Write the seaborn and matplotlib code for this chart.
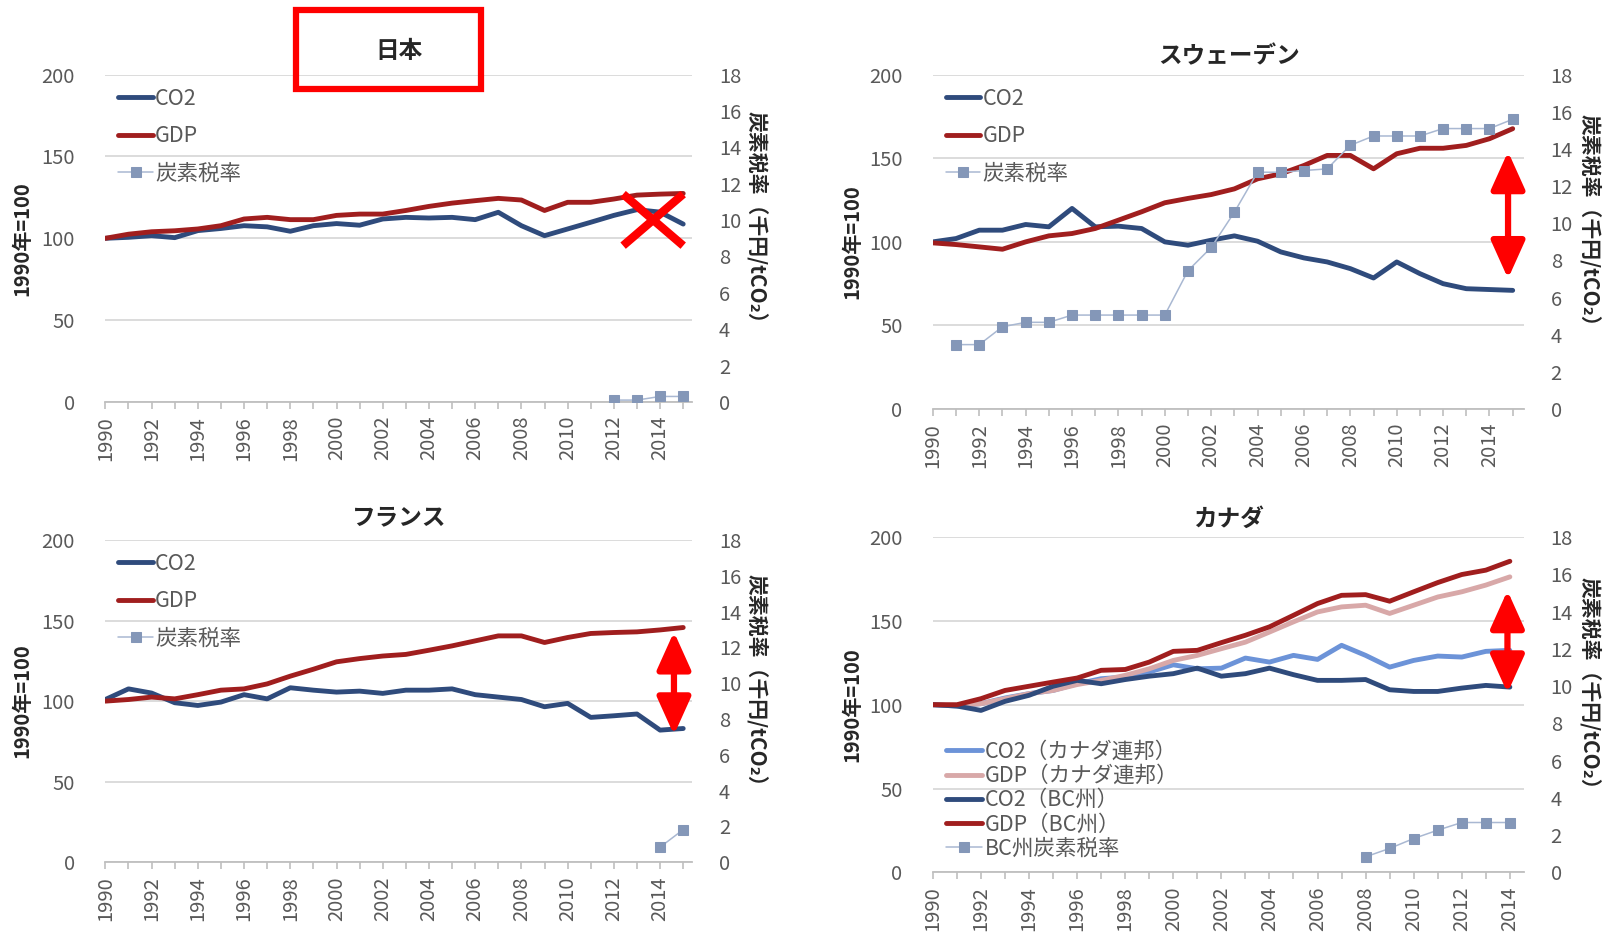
import seaborn as sns
from matplotlib import pyplot as plt
from matplotlib.patches import FancyArrowPatch, Rectangle

# Years on the category axes
years = list(range(1990, 2016))
years_ca = list(range(1990, 2015))

# 日本 (1990=100, tax in 千円/tCO2)
jp_co2 = [100, 100.6, 101.6, 100.4, 104.7, 106, 107.7, 107, 104.3, 107.7, 109, 108,
          111.8, 112.8, 112.4, 112.8, 111.4, 115.9, 107.7, 101.6, 105.7, 109.8, 114,
          117.5, 116, 108.7]
jp_gdp = [100, 102.5, 104, 104.6, 105.7, 107.7, 111.8, 112.8, 111.4, 111.4, 114, 114.8,
          114.8, 117, 119.5, 121.5, 123, 124.4, 123.4, 117, 122, 122, 124, 126.4,
          127, 127.4]
jp_tax_years = [2012, 2013, 2014, 2015]
jp_tax = [0.1, 0.1, 0.3, 0.3]

# スウェーデン
se_co2 = [100, 102, 107, 107, 110.4, 109, 120, 109, 109.4, 108, 100, 98, 101, 103.6,
          100.4, 94, 90.4, 88, 84, 78.4, 88, 81, 75, 72, 71.5, 71]
se_gdp = [99.4, 98.4, 97, 95.6, 100, 103.6, 105, 108, 113, 118, 123.4, 126, 128.3,
          131.7, 137.7, 140.7, 145.7, 151.7, 151.7, 143.7, 152.7, 156, 156, 157.7,
          161.7, 167.7]
se_tax_years = list(range(1991, 2016))
se_tax = [3.47, 3.47, 4.43, 4.67, 4.67, 5.06, 5.06, 5.06, 5.06, 5.06, 7.45, 8.7, 10.6,
          12.75, 12.75, 12.84, 12.93, 14.2, 14.7, 14.7, 14.7, 15.1, 15.1, 15.1, 15.6]

# フランス
fr_co2 = [101, 107.6, 105, 99, 97.3, 99.4, 104, 101.4, 108.3, 106.8, 105.6, 106.2,
          104.8, 106.8, 106.8, 107.6, 104, 102.5, 101, 96.5, 98.6, 89.9, 90.9, 92,
          82, 83]
fr_gdp = [100, 101, 102.5, 101.4, 104, 106.8, 107.6, 110.7, 115.5, 119.8, 124.4, 126.4,
          128, 129, 131.6, 134.3, 137.4, 140.5, 140.5, 136.4, 139.5, 142, 142.6, 143,
          144.2, 145.7]
fr_tax_years = [2014, 2015]
fr_tax = [0.84, 1.82]

# カナダ
ca_co2_fed = [100, 99.2, 100.6, 104, 106.6, 108.5, 112.5, 115.5, 116.5, 119.5, 123.8,
              121.4, 121.8, 127.8, 125.4, 129.4, 127, 135.4, 129.4, 122.4, 126.4, 129,
              128.4, 131.8, 132.4]
ca_gdp_fed = [100, 99.6, 100.6, 103.6, 106.6, 108.5, 112, 114.5, 117.5, 121.4, 126.4,
              129.4, 133.4, 137.3, 143.3, 149.4, 155.3, 158.3, 159.3, 154.4, 159.3,
              164.2, 167.3, 171.3, 176.2]
ca_co2_bc = [100, 99.2, 96.6, 102, 105.6, 111, 114.5, 112.5, 115, 117, 118.5, 121.8,
             117, 118.5, 121.8, 117.9, 114.5, 114.5, 115, 108.9, 107.9, 107.9, 109.9,
             111.5, 110.5]
ca_gdp_bc = [100, 100, 103.6, 108.5, 111, 113.5, 115.9, 120.5, 121, 125.4, 131.8, 132.4,
             137, 141.4, 146.4, 153.3, 160.3, 165.2, 165.6, 161.7, 167.3, 172.8, 177.6,
             180.2, 185.5]
ca_tax_years = list(range(2008, 2015))
ca_tax = [0.84, 1.29, 1.82, 2.27, 2.68, 2.68, 2.68]

NAVY = "#2F4B7C"
RED = "#A01E1E"
LIGHT_BLUE = "#6C93D8"
PINK = "#D8A8A8"
TAX = "#8497B8"
TAX_LINE = "#A9B8D2"
GREY = "#595959"

sns.set_theme(style="white")
plt.rcParams["font.family"] = ["Noto Sans CJK JP", "DejaVu Sans"]

fig = plt.figure(figsize=(16.04, 9.43), dpi=100)


def make_panel(rect, title, xyears, xmax, title_pad=8):
    ax = fig.add_axes(rect)
    ax2 = ax.twinx()
    ax.set_xlim(1990, xmax)
    ax.set_ylim(0, 200)
    ax2.set_ylim(0, 18)
    ax.set_yticks(range(0, 201, 50))
    ax2.set_yticks(range(0, 19, 2))
    ax.set_xticks(xyears)
    ax.set_xticklabels([str(y) if y % 2 == 0 else "" for y in xyears])
    ax.grid(axis="y", color="#D9D9D9", lw=1.3)
    ax.set_axisbelow(True)
    for s in ["left", "right", "top"]:
        ax.spines[s].set_visible(False)
    for s in ax2.spines.values():
        s.set_visible(False)
    ax.spines["bottom"].set_color("#BFBFBF")
    ax.spines["bottom"].set_linewidth(1.3)
    ax.tick_params(axis="x", bottom=True, length=5, width=1.2, color="#BFBFBF",
                   labelrotation=90, labelsize=14.5, labelcolor=GREY, pad=5)
    ax.tick_params(axis="y", left=False, labelsize=14.5, labelcolor=GREY, pad=16)
    ax2.tick_params(axis="y", right=False, labelsize=14.5, labelcolor=GREY, pad=13)
    ax.set_title(title, fontsize=17, fontweight="bold", pad=title_pad)
    return ax, ax2


def finish_panel(ax, ax2, legend_kw, ylabel_x=-0.125):
    ax.set_xlabel("")
    ax.set_ylabel("1990年=100", fontsize=14.5, fontweight="bold", color="#262626")
    ax.yaxis.set_label_coords(ylabel_x, 0.5)
    ax2.set_ylabel("炭素税率（千円/tCO₂）", rotation=-90, va="center",
                   fontsize=15, fontweight="bold", color="#262626")
    ax2.yaxis.set_label_coords(1.11, 0.55)
    for a in (ax, ax2):
        if a.get_legend() is not None:
            a.get_legend().remove()
    handles = ax.get_lines() + ax2.get_lines()
    handles = [h for h in handles if not h.get_label().startswith("_")]
    leg = ax2.legend(handles, [h.get_label() for h in handles], frameon=False,
                     handletextpad=0.1, borderaxespad=0.2, prop={"size": 15.5},
                     **legend_kw)
    for t in leg.get_texts():
        t.set_color(GREY)


def two_lines(ax, x, co2, gdp):
    sns.lineplot(x=x, y=co2, ax=ax, color=NAVY, linewidth=3.5, label="CO2")
    sns.lineplot(x=x, y=gdp, ax=ax, color=RED, linewidth=3.5, label="GDP")


def tax_line(ax2, x, y, label):
    sns.lineplot(x=x, y=y, ax=ax2, color=TAX_LINE, linewidth=1.1, marker="s",
                 markersize=7.5, markerfacecolor=TAX, markeredgecolor=TAX, label=label)


def red_arrow(ax, x, y0, y1):
    ax.add_patch(FancyArrowPatch((x, y0), (x, y1),
                                 arrowstyle="<|-|>,head_length=1.0,head_width=0.45",
                                 mutation_scale=23, color="red", lw=4.5,
                                 clip_on=False, zorder=10, shrinkA=0, shrinkB=0))


top_kw = dict(loc="upper left", bbox_to_anchor=(0.0, 1.0), handlelength=1.6,
              labelspacing=0.72)

# 日本
ax, ax2 = make_panel([0.0657, 0.5738, 0.366, 0.347], "日本", years, 2015.4, 12)
two_lines(ax, years, jp_co2, jp_gdp)
tax_line(ax2, jp_tax_years, jp_tax, "炭素税率")
finish_panel(ax, ax2, top_kw)
ax.plot([2012.4, 2015.0], [127, 95.5], color="red", lw=6, solid_capstyle="butt",
        zorder=10)
ax.plot([2012.4, 2015.0], [95.5, 127], color="red", lw=6, solid_capstyle="butt",
        zorder=10)
fig.add_artist(Rectangle((0.1843, 0.9056), 0.1154, 0.0836, transform=fig.transFigure,
                         fill=False, edgecolor="red", lw=4.5))

# スウェーデン
ax, ax2 = make_panel([0.5816, 0.5662, 0.3687, 0.3546], "スウェーデン", years, 2015.5)
two_lines(ax, years, se_co2, se_gdp)
tax_line(ax2, se_tax_years, se_tax, "炭素税率")
finish_panel(ax, ax2, top_kw, -0.12)
red_arrow(ax, 2014.8, 78, 154)

# フランス
ax, ax2 = make_panel([0.0657, 0.0857, 0.366, 0.3416], "フランス", years, 2015.4, 11)
two_lines(ax, years, fr_co2, fr_gdp)
tax_line(ax2, fr_tax_years, fr_tax, "炭素税率")
finish_panel(ax, ax2, top_kw)
red_arrow(ax, 2014.6, 79, 143)

# カナダ
ax, ax2 = make_panel([0.5816, 0.0748, 0.3687, 0.3558], "カナダ", years_ca, 2014.6, 8)
sns.lineplot(x=years_ca, y=ca_co2_fed, ax=ax, color=LIGHT_BLUE, linewidth=3.5,
             label="CO2（カナダ連邦）")
sns.lineplot(x=years_ca, y=ca_gdp_fed, ax=ax, color=PINK, linewidth=3.5,
             label="GDP（カナダ連邦）")
sns.lineplot(x=years_ca, y=ca_co2_bc, ax=ax, color=NAVY, linewidth=3.5,
             label="CO2（BC州）")
sns.lineplot(x=years_ca, y=ca_gdp_bc, ax=ax, color=RED, linewidth=3.5,
             label="GDP（BC州）")
tax_line(ax2, ca_tax_years, ca_tax, "BC州炭素税率")
finish_panel(ax, ax2, dict(loc="lower left", bbox_to_anchor=(0.0, 0.0),
                           handlelength=1.7, labelspacing=0.1), -0.12)
red_arrow(ax, 2013.9, 107, 168)

fig.savefig("out.png", dpi=100)
